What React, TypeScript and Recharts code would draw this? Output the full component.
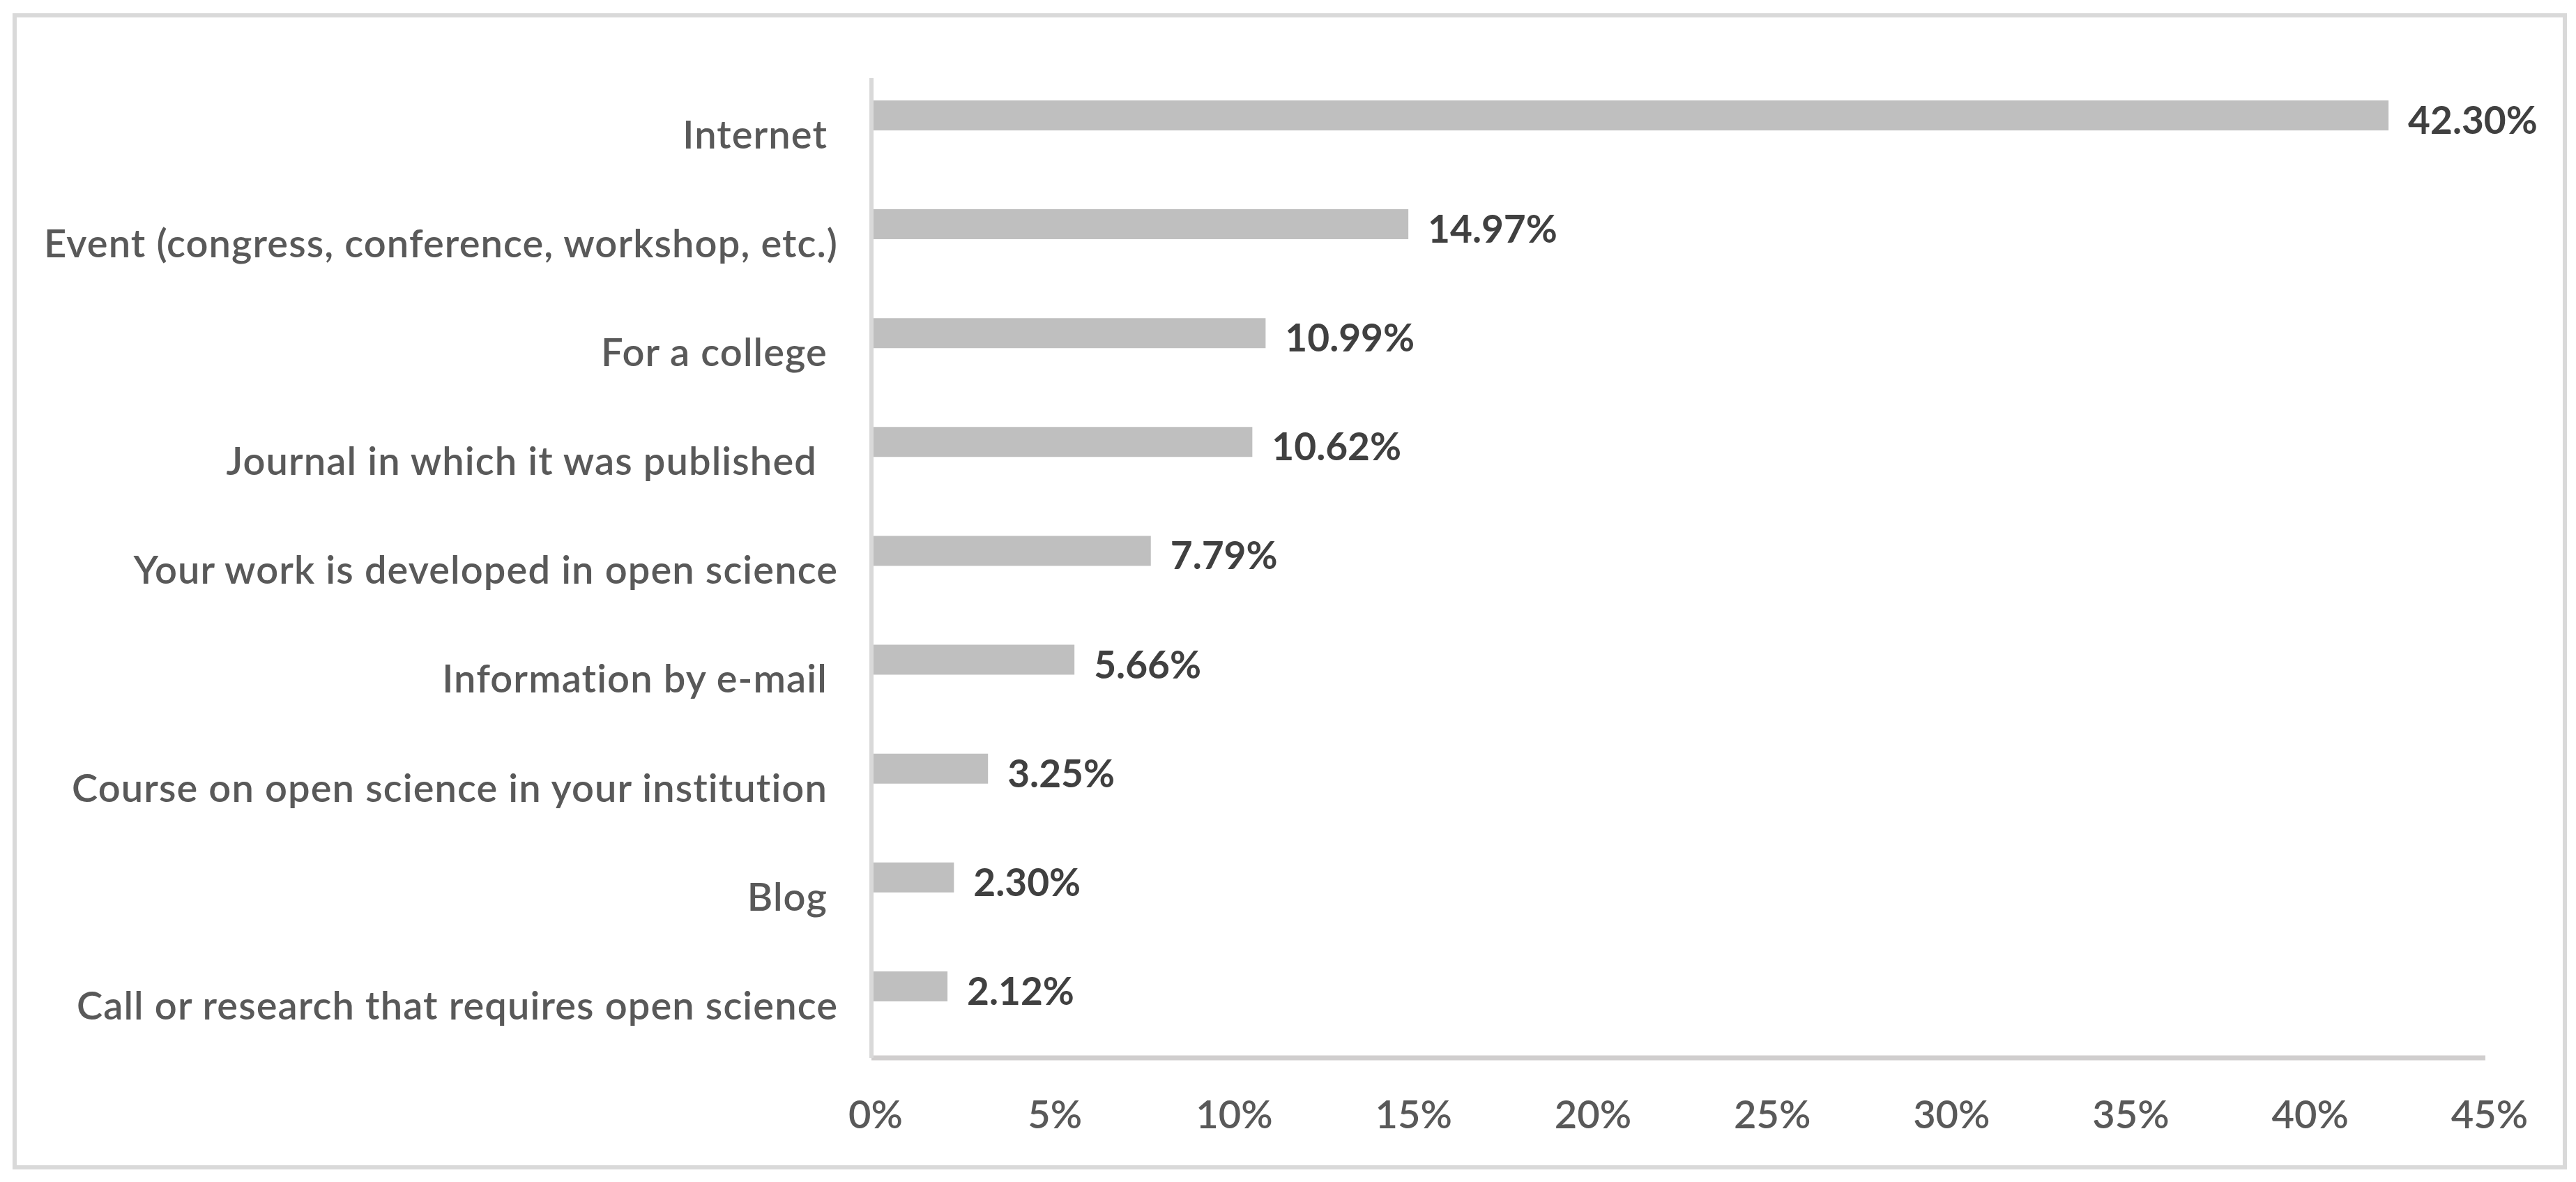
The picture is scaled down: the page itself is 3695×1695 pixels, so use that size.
import React from "react";
import { BarChart, Bar, XAxis, YAxis, LabelList, Rectangle } from "recharts";

const categories = [
  "Internet ",
  "Event (congress, conference, workshop, etc.)",
  "For a college ",
  "Journal in which it was published  ",
  "Your work is developed in open science",
  "Information by e-mail ",
  "Course on open science in your institution ",
  "Blog ",
  "Call or research that requires open science",
];
const shares = [42.3, 14.97, 10.99, 10.62, 7.79, 5.66, 3.25, 2.3, 2.12];
const xTicks = [0, 5, 10, 15, 20, 25, 30, 35, 40, 45];

const data = categories.map((name, i) => ({ name, value: shares[i] }));

const FONT = "Lato, 'Liberation Sans', sans-serif";
// bars sit a little above the middle of their category row, like the original
const BAR_SHIFT = 25;

const CategoryTick = ({ x, y, payload }: any) => (
  <text
    x={x}
    y={y + 3}
    dy="0.355em"
    textAnchor="end"
    fill="#595959"
    fontSize={56}
    fontWeight={600}
    fontFamily={FONT}
    letterSpacing={1.1}
    style={{ whiteSpace: "pre" }}
  >
    {payload.value}
  </text>
);

const PercentTick = ({ x, y, payload }: any) => (
  <text
    x={x + 6}
    y={y}
    dy="0.71em"
    textAnchor="middle"
    fill="#595959"
    fontSize={56}
    fontWeight={600}
    fontFamily={FONT}
  >
    {payload.value}%
  </text>
);

const ValueLabel = ({ x, y, width, height, value }: any) => (
  <text
    x={x + width + 28}
    y={y + height / 2 - BAR_SHIFT + 7}
    dy="0.355em"
    fill="#404040"
    fontSize={55}
    fontWeight="bold"
    fontFamily={FONT}
  >
    {Number(value).toFixed(2)}%
  </text>
);

export default function App() {
  return (
    <div
      style={{
        position: "absolute",
        left: 0,
        top: 0,
        width: 3695,
        height: 1695,
        background: "#fff",
      }}
    >
      <div
        style={{
          position: "absolute",
          left: 18,
          top: 19,
          width: 3664,
          height: 1658,
          border: "6px solid #d9d9d9",
          boxSizing: "border-box",
        }}
      />
      <div style={{ position: "absolute", left: 0, top: 0 }}>
        <BarChart
          width={3695}
          height={1695}
          data={data}
          layout="vertical"
          margin={{ top: 112, right: 130, bottom: 0, left: 0 }}
          barSize={43}
        >
          <XAxis
            type="number"
            domain={[0, 45]}
            ticks={xTicks}
            interval={0}
            height={178}
            axisLine={{ stroke: "#d0cece", strokeWidth: 7 }}
            tickLine={false}
            tickSize={6}
            tickMargin={55}
            tick={<PercentTick />}
          />
          <YAxis
            type="category"
            dataKey="name"
            width={1250}
            interval={0}
            axisLine={{ stroke: "#d9d9d9", strokeWidth: 6 }}
            tickLine={false}
            tickSize={6}
            tickMargin={42}
            tick={<CategoryTick />}
          />
          <Bar
            dataKey="value"
            fill="#bfbfbf"
            isAnimationActive={false}
            shape={(props: any) => (
              <Rectangle {...props} y={props.y - BAR_SHIFT} />
            )}
          >
            <LabelList dataKey="value" content={<ValueLabel />} />
          </Bar>
        </BarChart>
      </div>
    </div>
  );
}
